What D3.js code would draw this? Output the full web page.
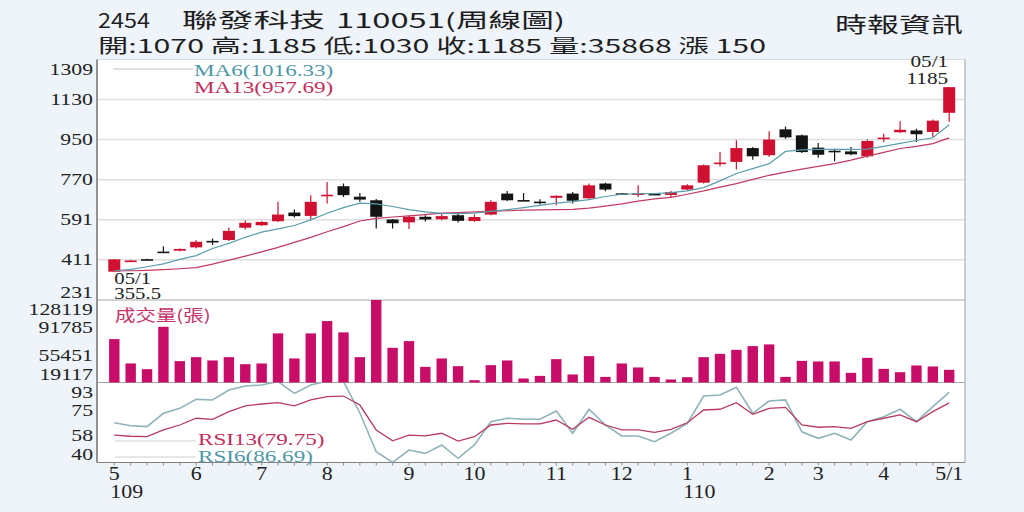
<!DOCTYPE html>
<html>
<head>
<meta charset="utf-8">
<script src="https://cdn.jsdelivr.net/npm/d3@7"></script>
<style>
  html, body { margin: 0; padding: 0; background: #eef4fa; }
  svg { display: block; }
</style>
</head>
<body>
<div id="chart"></div>
<script>
// Weekly candles, 109/05 week 1 .. 110/05 week 1 (Monday of each week, no trading week 2021-02-08)
let weeks = ["2020-04-27","2020-05-04","2020-05-11","2020-05-18","2020-05-25","2020-06-01","2020-06-08","2020-06-15","2020-06-22","2020-06-29",
  "2020-07-06","2020-07-13","2020-07-20","2020-07-27","2020-08-03","2020-08-10","2020-08-17","2020-08-24","2020-08-31","2020-09-07",
  "2020-09-14","2020-09-21","2020-09-28","2020-10-05","2020-10-12","2020-10-19","2020-10-26","2020-11-02","2020-11-09","2020-11-16",
  "2020-11-23","2020-11-30","2020-12-07","2020-12-14","2020-12-21","2020-12-28","2021-01-04","2021-01-11","2021-01-18","2021-01-25",
  "2021-02-01","2021-02-15","2021-02-22","2021-03-01","2021-03-08","2021-03-15","2021-03-22","2021-03-29","2021-04-05","2021-04-12",
  "2021-04-19","2021-04-26"]

let openP  = [358,405,414,448,452,467,496,500,555,566,584,623,608,699,741,694,678,592,579,604,593,611,585,614,708,679,672,689,708,687,753,709,706,707,702,726,757,843,850,912,880,996,969,914,900,897,875,955,983,991,984,1070]
let highP  = [415,410,416,472,462,499,507,556,589,584,671,637,701,760,753,711,684,594,607,611,618,621,614,678,720,711,683,700,715,753,757,711,745,710,720,750,838,894,947,917,987,1009,973,935,909,917,950,976,1032,999,1040,1185]
let lowP   = [355.5,403,411,440,450,462,477,495,547,563,581,601,592,663,693,671,552,552,549,583,588,578,582,611,675,675,659,656,663,681,719,705,693,700,688,722,753,830,816,860,872,954,890,869,853,880,869,939,980,939,961,1030]
let closeP = [413,408,412,446,460,492,494,541,577,581,614,607,671,703,701,681,604,575,604,592,607,586,603,671,678,677,670,698,676,745,726,707,709,703,715,745,835,847,912,875,950,960,894,882,897,884,944,959,994,974,1035,1185]

let volume = [76460,44280,36730,92750,47330,52620,48250,52620,43350,44280,84010,50900,84010,100300,85340,52620,128119,64940,73820,39780,
  50900,40700,22160,42030,48250,24420,27860,49980,29710,53950,26530,44280,38980,26530,23090,26140,52620,56990,62290,67190,
  69440,26530,47720,46930,46930,31830,51700,37130,32760,41630,40310,35868]

let ma6  = [362,368,380,393,413,430,462,485,512,535,550,565,590,620,645,665,662,650,636,626,619,618,620,628,636,645,655,665,672,681,695,705,708,708,712,720,735,765,798,820,842,897,904,906,906,906,907,920,933,946,958,1016.33]
let ma13 = [361,362,364,367,371,376,392,410,428,447,467,489,512,537,560,585,597,603,608,614,620,623,626,628,631,634,635,636,637,643,652,662,674,684,691,705,720,737,753,772,790,804,818,830,842,858,876,893,910,920,932,957.69]

let rsi6  = [66.5,64.5,63.9,72.8,76.1,82.1,81.7,88.3,91,91.7,94,86.1,91.7,94.3,94,73,47.2,40,48.3,46.1,51.7,42.8,51.7,67.2,69.5,68.8,68.8,74.3,59.5,75.5,65,57.7,57.7,53.9,59.5,66.1,84.3,85,90.1,72.8,81,81.7,60.5,56.1,59.5,55,67.2,70.5,75.5,67.2,77.2,86.69]
let rsi13 = [58.3,57.5,57.2,61.7,65,69.5,68.8,73.9,77.7,79,79.9,77.7,81.7,83.9,84.3,78.3,61.7,54.5,58.3,57.7,59.5,54.3,57.2,65,66.1,65.7,65.7,68.3,62.1,70.1,65,61.7,61.7,60.1,62.1,66.5,75,75.5,79.9,72.1,76.1,76.8,65,63.5,63.9,62.8,67.2,69.5,71.7,67.2,73.9,79.75]

// Axis ticks
let priceTicks = [231, 411, 591, 770, 950, 1130, 1309]
let volTicks = [19117, 55451, 91785, 128119]
let rsiTicks = [40, 58, 75, 93]
let monthTickWeeks = ["2020-04-27","2020-06-01","2020-06-29","2020-07-27","2020-08-31","2020-09-28","2020-11-02","2020-11-30","2020-12-28","2021-02-01","2021-03-01","2021-03-29","2021-04-26"]
let monthTickLabels = ["5","6","7","8","9","10","11","12","1","2","3","4","5/1"]
let yearLabels = [["2020-04-27", "109"], ["2020-12-28", "110"]]

let width = 1024, height = 512
let plotLeft = 97, plotRight = 965
let plotTop = 59.5, priceBottom = 300, volBottom = 382.5, rsiBottom = 462.5

let serif = "'Liberation Serif', 'DejaVu Serif', serif"
let cjk = "'Noto Sans CJK TC', 'Noto Sans CJK SC', sans-serif"
let upColor = "#cf1030", downColor = "#141414"

let svg = d3.select("#chart").append("svg")
    .attr("width", width)
    .attr("height", height)

svg.append("rect").attr("width", width).attr("height", height).attr("fill", "#eef4fa")
svg.append("rect").attr("x", plotLeft).attr("y", plotTop).attr("width", plotRight - plotLeft).attr("height", rsiBottom - plotTop).attr("fill", "#fff")

let x = d3.scalePoint().domain(weeks).range([114.3, 949.2])
let yPrice = d3.scaleLinear().domain([231, 1309]).range([priceBottom, plotTop])
let yVol = d3.scaleLinear().domain([19117, 128119]).range([volBottom, 300])
let yRsi = d3.scaleLinear().domain([40, 93]).range([rsiBottom, 383])

let defs = svg.append("defs")
defs.append("clipPath").attr("id", "clipPrice").append("rect")
    .attr("x", plotLeft).attr("y", plotTop).attr("width", plotRight - plotLeft).attr("height", priceBottom - plotTop)
defs.append("clipPath").attr("id", "clipRsi").append("rect")
    .attr("x", plotLeft).attr("y", volBottom + 0.5).attr("width", plotRight - plotLeft).attr("height", rsiBottom - volBottom - 0.5)

// Stretched text, the source picture is wider than it is tall
function label(g, px, py, str, size, color, anchor, sx, family) {
  return g.append("text")
      .attr("transform", "translate(" + px + "," + py + ") scale(" + sx + ",1)")
      .attr("text-anchor", anchor)
      .attr("font-family", family || serif)
      .attr("font-size", size)
      .attr("fill", color)
      .text(str)
}

// Text squeezed or stretched to a known width
function fitText(px, py, str, size, len) {
  return svg.append("text").attr("x", px).attr("y", py)
      .attr("font-family", cjk).attr("font-size", size).attr("fill", "#1e1e1e")
      .attr("textLength", len).attr("lengthAdjust", "spacingAndGlyphs")
      .text(str)
}

// Price grid
svg.append("g").selectAll("line")
    .data(priceTicks.slice(1, -1))
    .enter().append("line")
    .attr("x1", plotLeft).attr("x2", plotRight)
    .attr("y1", (d) => yPrice(d)).attr("y2", (d) => yPrice(d))
    .attr("stroke", "#dedede").attr("stroke-width", 1.5)

// Panel frame
let frame = svg.append("g").attr("stroke-width", 1.2)
frame.append("line").attr("x1", plotLeft).attr("x2", plotRight).attr("y1", plotTop).attr("y2", plotTop).attr("stroke", "#d6dde6")
frame.append("line").attr("x1", plotLeft).attr("x2", plotRight).attr("y1", priceBottom).attr("y2", priceBottom).attr("stroke", "#a8a8a8")
frame.append("line").attr("x1", plotLeft).attr("x2", plotRight).attr("y1", volBottom).attr("y2", volBottom).attr("stroke", "#a8a8a8")
frame.append("line").attr("x1", plotLeft).attr("x2", plotRight).attr("y1", rsiBottom).attr("y2", rsiBottom).attr("stroke", "#808080")
frame.append("line").attr("x1", plotRight).attr("x2", plotRight).attr("y1", plotTop).attr("y2", rsiBottom).attr("stroke", "#b0b0b0")
frame.append("line").attr("x1", plotLeft).attr("x2", plotLeft).attr("y1", plotTop).attr("y2", rsiBottom).attr("stroke", "#707070").attr("stroke-width", 1.5)

// Week ticks under the axis
svg.append("g").selectAll("line")
    .data(weeks)
    .enter().append("line")
    .attr("x1", (d) => x(d)).attr("x2", (d) => x(d))
    .attr("y1", rsiBottom).attr("y2", rsiBottom + 3)
    .attr("stroke", "#909090")

// Candles
let candles = svg.append("g").attr("clip-path", "url(#clipPrice)")
    .selectAll("g")
    .data(weeks)
    .enter().append("g")

candles.append("line")
    .attr("x1", (d) => x(d)).attr("x2", (d) => x(d))
    .attr("y1", (d, i) => yPrice(highP[i]))
    .attr("y2", (d, i) => yPrice(lowP[i]))
    .attr("stroke", (d, i) => closeP[i] >= openP[i] ? upColor : downColor)
    .attr("stroke-width", 1.2)

candles.append("rect")
    .attr("x", (d) => x(d) - 6)
    .attr("width", 12)
    .attr("y", (d, i) => yPrice(Math.max(openP[i], closeP[i])))
    .attr("height", (d, i) => Math.max(1.6, Math.abs(yPrice(openP[i]) - yPrice(closeP[i]))))
    .attr("fill", (d, i) => closeP[i] >= openP[i] ? upColor : downColor)

// Moving averages
let priceLine = (arr) => d3.line().x((d) => x(d)).y((d, i) => yPrice(arr[i]))(weeks)
let maG = svg.append("g").attr("clip-path", "url(#clipPrice)").attr("fill", "none").attr("stroke-width", 1.2)
maG.append("path").attr("d", priceLine(ma13)).attr("stroke", "#c23a62")
maG.append("path").attr("d", priceLine(ma6)).attr("stroke", "#5a9eae")

// Volume bars
svg.append("g").selectAll("rect")
    .data(weeks)
    .enter().append("rect")
    .attr("x", (d) => x(d) - 5.2)
    .attr("width", 10.4)
    .attr("y", (d, i) => yVol(volume[i]))
    .attr("height", (d, i) => Math.max(1.5, volBottom - yVol(volume[i])))
    .attr("fill", "#c70d68")

// RSI lines
let rsiLine = (arr) => d3.line().x((d) => x(d)).y((d, i) => yRsi(arr[i]))(weeks)
let rsiG = svg.append("g").attr("clip-path", "url(#clipRsi)").attr("fill", "none")
rsiG.append("path").attr("d", rsiLine(rsi6)).attr("stroke", "#8fb3ba").attr("stroke-width", 1.6)
rsiG.append("path").attr("d", rsiLine(rsi13)).attr("stroke", "#b93a62").attr("stroke-width", 1.3)

// Y axis labels, end labels kept inside their panel
function yLabels(ticks, scale, lo, hi) {
  ticks.forEach((t) => {
    let py = Math.min(hi - 8, Math.max(lo + 9.5, scale(t)))
    label(svg, 93, py + 5.5, t, 17, "#222", "end", 1.28)
  })
}
yLabels(priceTicks, yPrice, plotTop, priceBottom)
yLabels(volTicks, yVol, 300, volBottom)
yLabels(rsiTicks, yRsi, 383, rsiBottom)

// Month labels
monthTickWeeks.forEach((w, i) => {
  label(svg, x(w), 480, monthTickLabels[i], 18, "#222", "middle", 1.22)
})
yearLabels.forEach((d) => {
  label(svg, x(d[0]) - 4, 498, d[1], 18, "#222", "start", 1.22)
})

// Legends
svg.append("line").attr("x1", 113).attr("x2", 193).attr("y1", 69).attr("y2", 69).attr("stroke", "#c4c4c4").attr("stroke-width", 1.2)
label(svg, 194, 76, "MA6(1016.33)", 17, "#4f98a8", "start", 1.36)
label(svg, 194, 93, "MA13(957.69)", 17, "#c0305c", "start", 1.36)

label(svg, 115, 321, "成交量(張)", 15.5, "#c4306a", "start", 1.32, cjk)

svg.append("line").attr("x1", 115).attr("x2", 196).attr("y1", 441).attr("y2", 441).attr("stroke", "#d0d0d0").attr("stroke-width", 1.2)
svg.append("line").attr("x1", 115).attr("x2", 196).attr("y1", 457).attr("y2", 457).attr("stroke", "#d0d0d0").attr("stroke-width", 1.2)
label(svg, 198, 445, "RSI13(79.75)", 17, "#c0305c", "start", 1.36)
label(svg, 198, 462, "RSI6(86.69)", 17, "#4f98a8", "start", 1.36)

// Low / high marks
let iLow = lowP.indexOf(d3.min(lowP))
let iHigh = highP.indexOf(d3.max(highP))
label(svg, x(weeks[iLow]), 284, "05/1", 16, "#222", "start", 1.3)
label(svg, x(weeks[iLow]), 299, lowP[iLow], 16, "#222", "start", 1.3)
label(svg, x(weeks[iHigh]) - 1, 67, "05/1", 17, "#222", "end", 1.25)
label(svg, x(weeks[iHigh]) - 1, 84, highP[iHigh], 17, "#222", "end", 1.25)

// Header
fitText(98, 28, "2454", 20, 52)
fitText(182, 28, "聯發科技", 20, 143)
fitText(336, 28, "110051(周線圖)", 20, 229)
fitText(98, 53, "開:1070 高:1185 低:1030 收:1185 量:35868 漲 150", 19, 668)
fitText(835, 32, "時報資訊", 21, 128)
</script>
</body>
</html>
